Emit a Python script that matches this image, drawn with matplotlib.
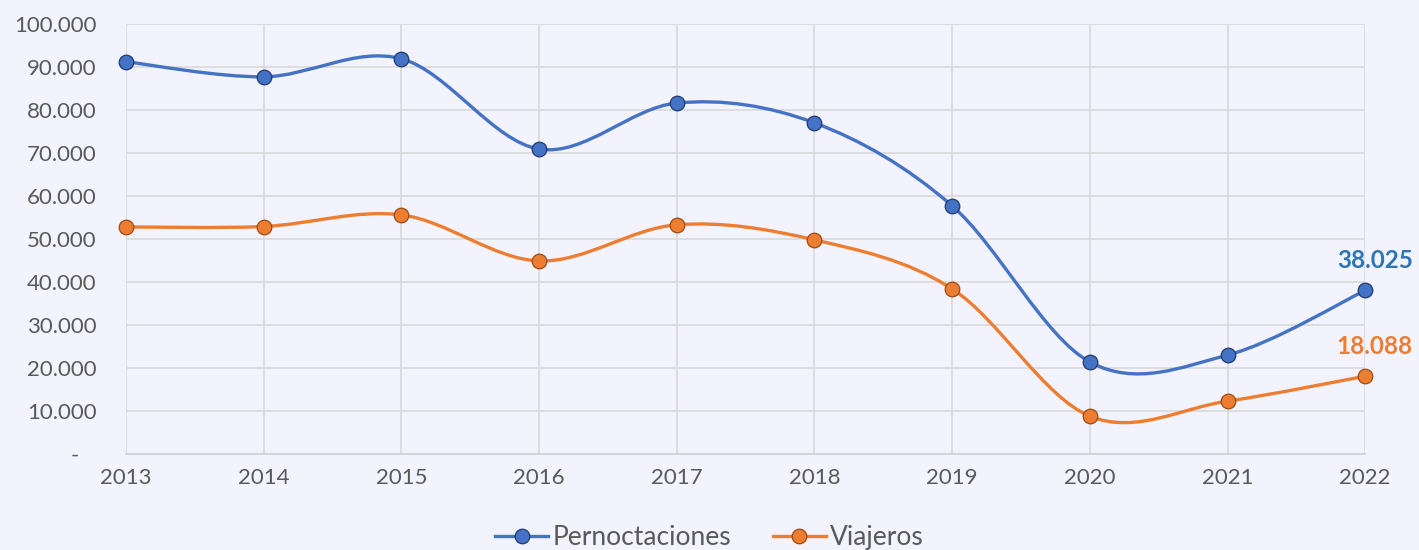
import matplotlib
matplotlib.use('Agg')
import matplotlib.pyplot as plt
from matplotlib.path import Path
from matplotlib.patches import PathPatch
from matplotlib.ticker import FuncFormatter, MultipleLocator
from matplotlib.lines import Line2D

years = [2013, 2014, 2015, 2016, 2017, 2018, 2019, 2020, 2021, 2022]
pernoctaciones = [91200, 87700, 91900, 70900, 81600, 77000, 57700, 21400, 23000, 38025]
viajeros = [52800, 52900, 55600, 44900, 53300, 49800, 38400, 8800, 12300, 18088]

bg = '#F3F3FD'
blue = '#4472C4'
orange = '#ED7D31'
text_grey = '#595959'

plt.rcParams['font.family'] = ['Lato', 'DejaVu Sans']


def smooth_path(xs, ys):
    # bezier curve through the points, like the spreadsheet "smoothed line"
    pts = list(zip(xs, ys))
    verts = [pts[0]]
    codes = [Path.MOVETO]
    n = len(pts)
    for i in range(n - 1):
        p0 = pts[i - 1] if i > 0 else pts[i]
        p1 = pts[i]
        p2 = pts[i + 1]
        p3 = pts[i + 2] if i + 2 < n else pts[i + 1]
        c1 = (p1[0] + (p2[0] - p0[0]) / 6, p1[1] + (p2[1] - p0[1]) / 6)
        c2 = (p2[0] - (p3[0] - p1[0]) / 6, p2[1] - (p3[1] - p1[1]) / 6)
        verts += [c1, c2, p2]
        codes += [Path.CURVE4] * 3
    return Path(verts, codes)


fig = plt.figure(figsize=(14.19, 5.5), dpi=100, facecolor=bg)
ax = fig.add_axes([0.0888, 0.1745, 0.8733, 0.782])
ax.set_facecolor(bg)

edges = {blue: '#1f3a6e', orange: '#9c4a14'}
for vals, col in [(pernoctaciones, blue), (viajeros, orange)]:
    ax.add_patch(PathPatch(smooth_path(years, vals), facecolor='none',
                           edgecolor=col, lw=2.4, zorder=3, capstyle='round'))
    ax.plot(years, vals, linestyle='none', marker='o', markersize=10.5,
            markerfacecolor=col, markeredgecolor=edges[col],
            markeredgewidth=0.9, zorder=4, clip_on=False)

ax.set_xlim(2013, 2022)
ax.set_ylim(0, 100000)
ax.yaxis.set_major_locator(MultipleLocator(10000))
ax.set_xticks(years)


def fmt(v, pos):
    if v == 0:
        return '-   '
    return f'{int(v):,}'.replace(',', '.')


ax.yaxis.set_major_formatter(FuncFormatter(fmt))
ax.grid(True, color='#D9D9D9', lw=1.2)
ax.set_axisbelow(True)
for s in ['top', 'right', 'left']:
    ax.spines[s].set_visible(False)
ax.spines['bottom'].set_color('#D0D0D0')
ax.spines['bottom'].set_linewidth(1.2)
ax.tick_params(length=0, labelsize=16, colors=text_grey, pad=10)
ax.tick_params(axis='y', pad=21)

ax.annotate(fmt(pernoctaciones[-1], 0), (years[-1], pernoctaciones[-1]),
            xytext=(7, 13), textcoords='offset points', ha='center',
            va='bottom', color='#2E75B6', fontsize=17.5, fontweight='bold')
ax.annotate(fmt(viajeros[-1], 0), (years[-1], viajeros[-1]),
            xytext=(7, 13), textcoords='offset points', ha='center',
            va='bottom', color=orange, fontsize=17.5, fontweight='bold')

handles = [Line2D([], [], color=col, lw=2.4, marker='o', markersize=10.5,
                  markeredgecolor=edges[col], markeredgewidth=0.9)
           for col in (blue, orange)]
fig.legend(handles, ['Pernoctaciones', 'Viajeros'], loc='center',
           bbox_to_anchor=(0.5, 0.022), ncol=2, frameon=False,
           fontsize=19, labelcolor=text_grey, handlelength=2.0,
           handletextpad=0.15, columnspacing=1.6)

fig.savefig('out.png', dpi=100, facecolor=bg)
